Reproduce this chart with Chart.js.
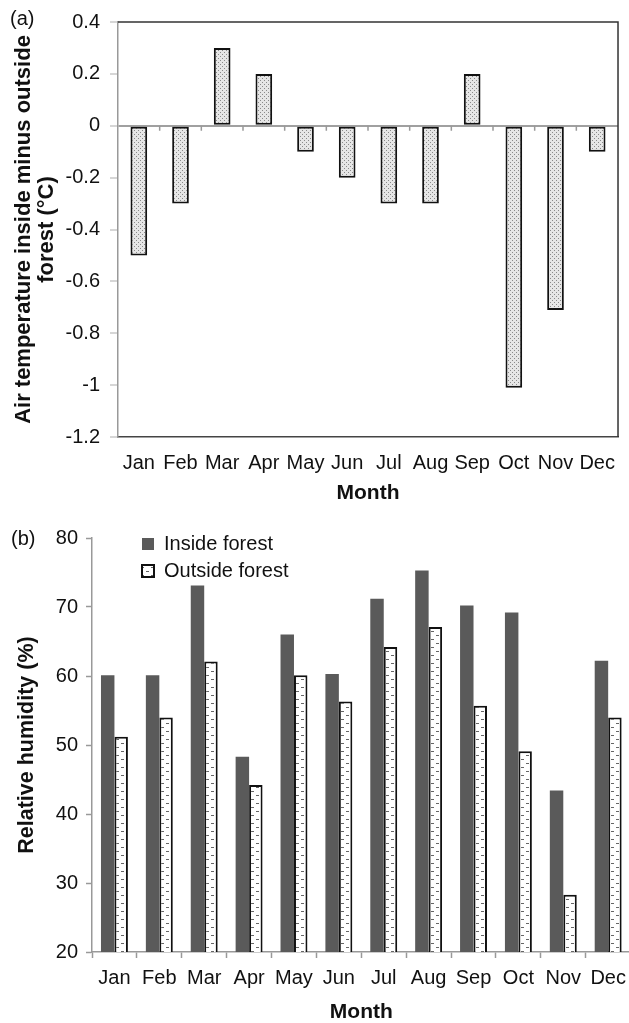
<!DOCTYPE html>
<html><head><meta charset="utf-8">
<script src="https://cdn.jsdelivr.net/npm/chart.js@4.4.1/dist/chart.umd.min.js"></script>
<style>
html,body{margin:0;padding:0;background:#fff;overflow:hidden;width:629px;height:1023px;}
#wrap{position:relative;width:629px;height:1023px;overflow:hidden;background:#fff;}
canvas{position:absolute;left:0;}
#c1{top:0;}
#c2{top:510px;}
.lab{position:absolute;font-family:'Liberation Sans',Arial,sans-serif;font-size:20px;color:#111;line-height:22px;}
</style></head><body>
<div id="wrap">
<canvas id="c1" width="629" height="510"></canvas>
<canvas id="c2" width="634" height="513"></canvas>
<div class="lab" style="left:10px;top:7px">(a)</div>
<div class="lab" style="left:11px;top:527px">(b)</div>
</div>
<script>
// ---- data ----
const months = ['Jan','Feb','Mar','Apr','May','Jun','Jul','Aug','Sep','Oct','Nov','Dec'];
const tempDiff = [-0.5, -0.3, 0.3, 0.2, -0.1, -0.2, -0.3, -0.3, 0.2, -1.01, -0.71, -0.1];
const tempTicks = [0.4, 0.2, 0, -0.2, -0.4, -0.6, -0.8, -1, -1.2];
const insideRH = [60.1, 60.1, 73.1, 48.3, 66.0, 60.3, 71.2, 75.3, 70.2, 69.2, 43.4, 62.2];
const outsideRH = [51.2, 54.0, 62.1, 44.2, 60.1, 56.3, 64.2, 67.1, 55.7, 49.1, 28.3, 54.0];
const rhTicks = [20, 30, 40, 50, 60, 70, 80];
const seriesNames = ['Inside forest', 'Outside forest'];
const tempTitle = ['Air temperature inside minus outside', 'forest (\u00B0C)'];
const rhTitle = 'Relative humidity (%)';
const xTitle = 'Month';

const FONT = "'Liberation Sans', Arial, sans-serif";
Chart.defaults.font.family = FONT;
Chart.defaults.color = '#111';

function dotPattern() {
  const c = document.createElement('canvas'); c.width = 4; c.height = 4;
  const g = c.getContext('2d');
  g.fillStyle = '#e6e6e6'; g.fillRect(0, 0, 4, 4);
  g.fillStyle = '#8a8a8a';
  g.fillRect(0, 0, 1, 1); g.fillRect(2, 2, 1, 1);
  return g.createPattern(c, 'repeat');
}
function dashPattern() {
  const c = document.createElement('canvas'); c.width = 10; c.height = 8;
  const g = c.getContext('2d');
  g.fillStyle = '#ffffff'; g.fillRect(0, 0, 10, 8);
  g.fillStyle = '#666';
  g.fillRect(1, 1, 3, 1); g.fillRect(6, 5, 3, 1);
  return g.createPattern(c, 'repeat');
}

// frame (top + right) and tick marks on the zero line for chart (a)
const frameA = {
  id: 'frameA',
  afterDatasetsDraw(chart) {
    const {ctx, chartArea: a, scales} = chart;
    ctx.save();
    ctx.strokeStyle = '#333'; ctx.lineWidth = 1.5;
    ctx.beginPath();
    ctx.moveTo(a.left, a.top); ctx.lineTo(a.right, a.top); ctx.lineTo(a.right, a.bottom);
    ctx.stroke();
    const y0 = scales.y.getPixelForValue(0);
    ctx.strokeStyle = '#999'; ctx.lineWidth = 1.5;
    ctx.beginPath();
    for (let i = 1; i < months.length; i++) {
      const x = (scales.x.getPixelForValue(i - 1) + scales.x.getPixelForValue(i)) / 2;
      ctx.moveTo(x, y0); ctx.lineTo(x, y0 + 5);
    }
    ctx.stroke();
    ctx.restore();
  }
};

new Chart(document.getElementById('c1'), {
  type: 'bar',
  data: {
    labels: months,
    datasets: [{
      data: tempDiff,
      backgroundColor: dotPattern(),
      borderColor: '#111',
      borderWidth: 2,
      borderSkipped: false,
      barPercentage: 0.4,
      categoryPercentage: 1.0
    }]
  },
  options: {
    responsive: false, animation: false, devicePixelRatio: 1,
    layout: {padding: {top: 16, right: 1, left: 0, bottom: 0}},
    plugins: {legend: {display: false}, tooltip: {enabled: false}},
    scales: {
      x: {
        grid: {display: true, drawOnChartArea: false, drawTicks: false},
        border: {color: '#444', width: 1.5},
        ticks: {font: {size: 20}, padding: 14, color: '#111', maxRotation: 0, autoSkip: false},
        title: {display: true, text: xTitle, font: {size: 21, weight: 'bold', lineHeight: 1.2}, padding: {top: 0, bottom: 4}, color: '#111'},
        afterFit(s) { s.height = 73; }
      },
      y: {
        min: -1.2, max: 0.4,
        afterBuildTicks(s) { s.ticks = tempTicks.map(v => ({value: v})); },
        ticks: {font: {size: 20}, padding: 10, color: '#111', callback: v => String(v)},
        grid: {
          color: c => (c.tick && c.tick.value === 0 ? '#a0a0a0' : 'rgba(0,0,0,0)'),
          lineWidth: 2, tickLength: 8, tickColor: '#c8c8c8', tickWidth: 1.5
        },
        border: {color: '#999', width: 1.5},
        title: {display: true, text: tempTitle, font: {size: 22, weight: 'bold', lineHeight: 1.05}, padding: {top: 12, bottom: 0}, color: '#111'},
        afterFit(s) { s.width = 118; }
      }
    }
  },
  plugins: [frameA]
});

// move the legend inside the plot area, upper left
const legendPlace = {
  id: 'legendPlace',
  afterLayout(chart) {
    const lg = chart.legend;
    if (!lg) return;
    lg.left = chart.chartArea.left + 43;
    lg.top = chart.chartArea.top - 11;
  }
};

new Chart(document.getElementById('c2'), {
  type: 'bar',
  data: {
    labels: months,
    datasets: [{
      label: seriesNames[0],
      data: insideRH,
      backgroundColor: '#5a5a5a',
      borderColor: '#5a5a5a',
      borderWidth: 0,
      barPercentage: 1.0,
      categoryPercentage: 0.6
    }, {
      label: seriesNames[1],
      data: outsideRH,
      backgroundColor: dashPattern(),
      borderColor: '#111',
      borderWidth: 2,
      borderSkipped: false,
      barPercentage: 1.0,
      categoryPercentage: 0.6
    }]
  },
  options: {
    responsive: false, animation: false, devicePixelRatio: 1,
    layout: {padding: {top: 28, right: 1, left: 0, bottom: 0}},
    plugins: {
      tooltip: {enabled: false},
      legend: {
        display: true, position: 'chartArea', align: 'start',
        labels: {boxWidth: 12, boxHeight: 12, padding: 7, font: {size: 20}, color: '#111'}
      }
    },
    scales: {
      x: {
        grid: {display: true, drawOnChartArea: false, drawTicks: true, tickLength: 6, color: '#999', tickWidth: 1.5},
        border: {color: '#999', width: 1.5},
        ticks: {font: {size: 20}, padding: 8, color: '#111', maxRotation: 0, autoSkip: false},
        title: {display: true, text: xTitle, font: {size: 21, weight: 'bold', lineHeight: 1.05}, padding: {top: 0, bottom: 0}, color: '#111'},
        afterFit(s) { s.height = 71; }
      },
      y: {
        min: 20, max: 80,
        afterBuildTicks(s) { s.ticks = rhTicks.map(v => ({value: v})); },
        ticks: {font: {size: 20}, padding: 8, color: '#111'},
        grid: {drawOnChartArea: false, drawTicks: true, tickLength: 6, color: '#999', tickWidth: 1.5},
        border: {color: '#999', width: 1.5},
        title: {display: true, text: rhTitle, font: {size: 21.5, weight: 'bold', lineHeight: 1.1}, padding: {top: 15, bottom: 0}, color: '#111'},
        afterFit(s) { s.width = 92; }
      }
    }
  },
  plugins: [legendPlace]
});
</script>
</body></html>
